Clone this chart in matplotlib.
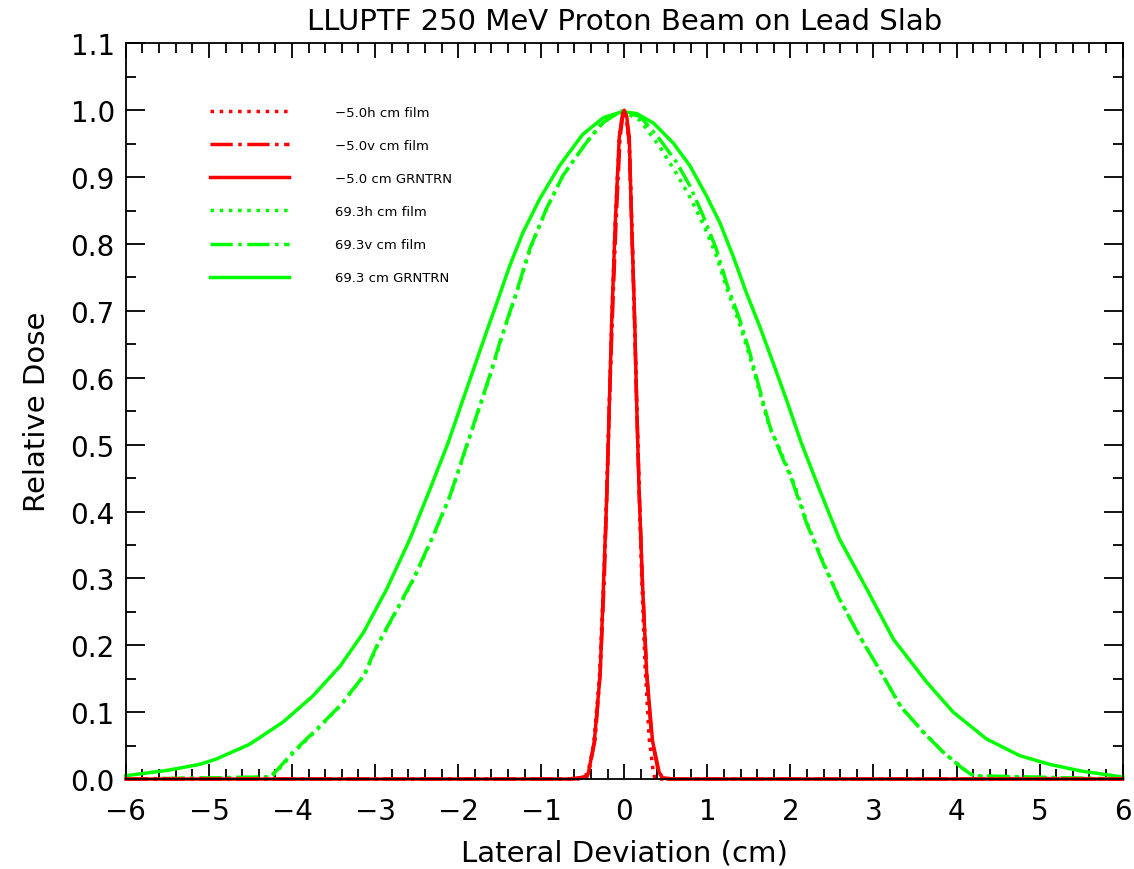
import matplotlib.pyplot as plt
from matplotlib.ticker import MultipleLocator, FormatStrFormatter

# -5.0 cm depth, red curves
red_grn_x = [-6.0, -0.69, -0.45, -0.43, -0.36, -0.29, -0.25, -0.21, -0.18, -0.15, -0.11, -0.06, -0.02, 0.0,
             0.03, 0.06, 0.09, 0.125, 0.15, 0.18, 0.22, 0.27, 0.34, 0.42, 0.46, 0.6, 6.0]
red_grn_y = [0.0, 0.0, 0.003, 0.01, 0.057, 0.157, 0.29, 0.425, 0.558, 0.69, 0.826, 0.96, 0.995, 1.0,
             0.99, 0.96, 0.826, 0.69, 0.558, 0.425, 0.29, 0.157, 0.057, 0.01, 0.002, 0.0, 0.0]

red_v_x = [-6.0, -0.6, -0.46, -0.42, -0.35, -0.29, -0.24, -0.21, -0.18, -0.14, -0.10, -0.05, -0.01,
           0.03, 0.06, 0.09, 0.12, 0.15, 0.18, 0.22, 0.27, 0.33, 0.41, 0.47, 6.0]
red_v_y = [0.0, 0.0, 0.004, 0.015, 0.06, 0.16, 0.30, 0.43, 0.56, 0.70, 0.83, 0.96, 1.0,
           0.985, 0.95, 0.83, 0.70, 0.56, 0.43, 0.29, 0.16, 0.06, 0.012, 0.0, 0.0]

red_h_x = [-6.0, -0.55, -0.44, -0.37, -0.30, -0.25, -0.21, -0.18, -0.15, -0.11, -0.06, -0.01,
           0.03, 0.06, 0.09, 0.12, 0.15, 0.18, 0.21, 0.25, 0.30, 0.35, 0.37, 0.45, 6.0]
red_h_y = [0.0, 0.0, 0.008, 0.05, 0.15, 0.29, 0.43, 0.56, 0.69, 0.83, 0.96, 1.0,
           0.985, 0.95, 0.83, 0.70, 0.56, 0.43, 0.30, 0.17, 0.06, 0.01, 0.0, 0.0, 0.0]

# 69.3 cm depth, green curves
grn_sol_x = [-6.0, -5.5, -5.11, -4.91, -4.51, -4.11, -3.75, -3.42, -3.14, -2.86, -2.58, -2.34, -2.12,
             -1.94, -1.80, -1.66, -1.52, -1.38, -1.22, -1.02, -0.78, -0.50, -0.25, -0.02, 0.15, 0.35,
             0.59, 0.79, 0.99, 1.15, 1.31, 1.47, 1.63, 1.79, 1.95, 2.13, 2.35, 2.59, 2.92, 3.24, 3.64,
             3.96, 4.36, 4.76, 5.12, 5.5, 6.0]
grn_sol_y = [0.005, 0.013, 0.022, 0.030, 0.052, 0.085, 0.124, 0.169, 0.219, 0.284, 0.359, 0.433, 0.503,
             0.568, 0.618, 0.668, 0.717, 0.767, 0.817, 0.867, 0.917, 0.964, 0.989, 0.998, 0.995, 0.981,
             0.951, 0.917, 0.872, 0.832, 0.782, 0.727, 0.677, 0.623, 0.568, 0.503, 0.433, 0.359, 0.284,
             0.209, 0.145, 0.100, 0.060, 0.035, 0.022, 0.012, 0.003]

grn_v_x = [-6.0, -4.27, -4.19, -3.99, -3.70, -3.42, -3.14, -2.98, -2.78, -2.54, -2.30, -2.10, -1.90,
           -1.78, -1.62, -1.46, -1.30, -1.14, -0.94, -0.74, -0.46, -0.25, -0.05, 0.19, 0.43, 0.63,
           0.79, 0.95, 1.11, 1.23, 1.39, 1.51, 1.63, 1.75, 1.83, 2.03, 2.19, 2.39, 2.59, 2.83, 3.07,
           3.32, 3.60, 3.84, 4.08, 4.20, 6.0]
grn_v_y = [0.0, 0.003, 0.012, 0.040, 0.075, 0.110, 0.154, 0.199, 0.244, 0.299, 0.364, 0.423, 0.498,
           0.543, 0.603, 0.668, 0.727, 0.792, 0.852, 0.902, 0.951, 0.982, 0.998, 0.991, 0.956, 0.922,
           0.887, 0.842, 0.792, 0.742, 0.687, 0.638, 0.583, 0.528, 0.503, 0.443, 0.384, 0.324, 0.269,
           0.214, 0.164, 0.110, 0.070, 0.040, 0.015, 0.005, 0.0]

grn_h_x = [-6.0, -4.25, -4.17, -3.97, -3.68, -3.40, -3.12, -2.97, -2.77, -2.53, -2.29, -2.09, -1.89,
           -1.77, -1.61, -1.45, -1.29, -1.13, -0.93, -0.73, -0.45, -0.25, -0.03, 0.19, 0.43, 0.63,
           0.79, 0.95, 1.11, 1.23, 1.39, 1.51, 1.63, 1.75, 1.85, 2.05, 2.21, 2.41, 2.61, 2.85, 3.09,
           3.34, 3.62, 3.86, 4.10, 4.22, 6.0]
grn_h_y = [0.0, 0.003, 0.013, 0.041, 0.076, 0.112, 0.157, 0.200, 0.245, 0.300, 0.366, 0.425, 0.500,
           0.545, 0.605, 0.670, 0.729, 0.794, 0.854, 0.904, 0.953, 0.984, 0.999, 0.985, 0.945, 0.905,
           0.870, 0.830, 0.782, 0.735, 0.680, 0.632, 0.578, 0.525, 0.500, 0.440, 0.380, 0.320, 0.265,
           0.210, 0.160, 0.106, 0.068, 0.038, 0.014, 0.004, 0.0]

fig = plt.figure(figsize=(11.34, 8.7), dpi=100)
ax = fig.add_axes([0.111, 0.1034, 0.879, 0.8456])

red = '#ff0000'
green = '#00ff00'
lw = 2.5

l_gs, = ax.plot(grn_sol_x, grn_sol_y, '-', color=green, lw=lw, label='69.3 cm GRNTRN', clip_on=False)
l_gv, = ax.plot(grn_v_x, grn_v_y, '-.', color=green, lw=lw, label='69.3v cm film', clip_on=False)
l_gh, = ax.plot(grn_h_x, grn_h_y, ':', color=green, lw=lw, label='69.3h cm film', clip_on=False)
l_rs, = ax.plot(red_grn_x, red_grn_y, '-', color=red, lw=lw, label='\u22125.0 cm GRNTRN', clip_on=False)
l_rv, = ax.plot(red_v_x, red_v_y, '-.', color=red, lw=lw, label='\u22125.0v cm film', clip_on=False)
l_rh, = ax.plot(red_h_x, red_h_y, ':', color=red, lw=lw, label='\u22125.0h cm film', clip_on=False)

ax.set_xlim(-6, 6)
ax.set_ylim(0, 1.1)
ax.xaxis.set_major_locator(MultipleLocator(1))
ax.xaxis.set_minor_locator(MultipleLocator(0.2))
ax.yaxis.set_major_locator(MultipleLocator(0.1))
ax.yaxis.set_minor_locator(MultipleLocator(0.05))
ax.yaxis.set_major_formatter(FormatStrFormatter('%.1f'))
ax.tick_params(which='both', direction='in', top=True, right=True, width=1.3, labelsize=20)
ax.tick_params(axis='x', which='major', length=11, pad=13)
ax.tick_params(axis='y', which='major', length=14, pad=8)
ax.tick_params(which='minor', length=7)
for s in ax.spines.values():
    s.set_linewidth(1.3)

ax.set_title('LLUPTF 250 MeV Proton Beam on Lead Slab', fontsize=21, pad=10)
ax.set_xlabel('Lateral Deviation (cm)', fontsize=21, labelpad=10)
ax.set_ylabel('Relative Dose', fontsize=21, labelpad=14)

ax.legend(handles=[l_rh, l_rv, l_rs, l_gh, l_gv, l_gs], loc='upper left',
          bbox_to_anchor=(0.084, 0.915), frameon=False, fontsize=9.5,
          handlelength=6.0, handletextpad=3.5, labelspacing=1.52, borderpad=0, borderaxespad=0)

fig.savefig('out.png', dpi=100)
